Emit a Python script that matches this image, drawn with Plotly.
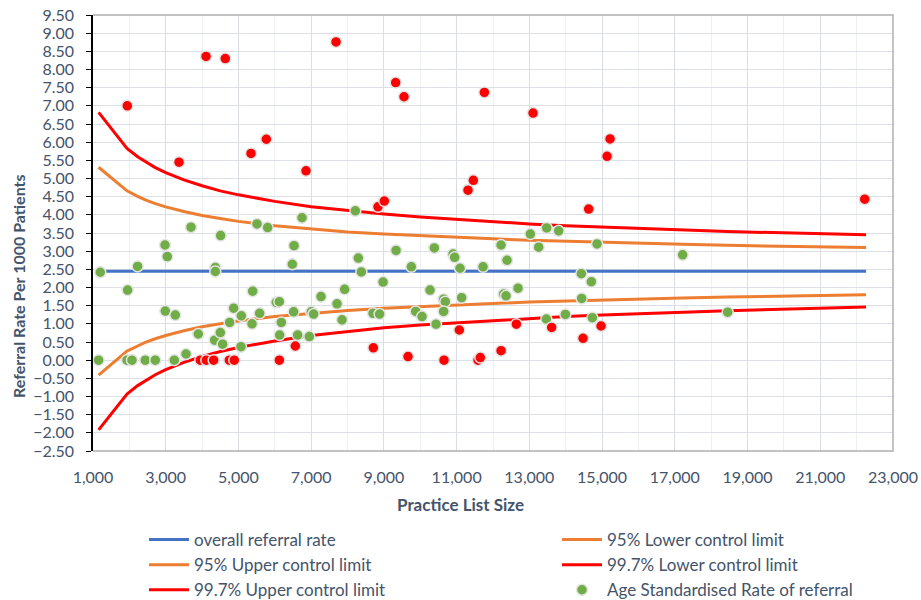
import plotly.graph_objects as go

# ---- data ----
limit_sizes = [1154, 1935, 2227, 2438, 2713, 3000, 3500, 4000, 4500, 5000, 6000, 7000,
               8000, 9000, 10000, 11000, 12000, 13000, 14000, 15000, 17215, 18453, 22259]
upper_997 = [6.82, 5.83, 5.60, 5.46, 5.30, 5.16, 4.96, 4.80, 4.66, 4.55, 4.37, 4.22,
             4.11, 4.02, 3.94, 3.87, 3.81, 3.75, 3.70, 3.66, 3.58, 3.54, 3.45]
lower_997 = [-1.92, -0.93, -0.70, -0.56, -0.40, -0.26, -0.06, 0.10, 0.24, 0.35, 0.53, 0.68,
             0.79, 0.89, 0.97, 1.03, 1.09, 1.15, 1.20, 1.24, 1.32, 1.36, 1.46]
upper_95 = [5.31, 4.66, 4.51, 4.41, 4.31, 4.22, 4.09, 3.98, 3.90, 3.82, 3.70, 3.61,
            3.53, 3.47, 3.42, 3.37, 3.34, 3.30, 3.27, 3.24, 3.19, 3.16, 3.10]
lower_95 = [-0.41, 0.25, 0.39, 0.49, 0.59, 0.68, 0.81, 0.92, 1.00, 1.08, 1.20, 1.29,
            1.37, 1.43, 1.48, 1.53, 1.56, 1.60, 1.63, 1.66, 1.71, 1.74, 1.80]
overall_sizes = [1154, 22259]
overall_rate = [2.45, 2.45]

within_sizes = [1154, 1200, 1935, 1952, 2072, 2227, 2438, 2713, 2980, 3043, 2988, 3236,
                3263, 3558, 3695, 3896, 4345, 4364, 4364, 4501, 4510, 4565, 4758, 4868,
                5070, 5079, 5373, 5390, 5510, 5582, 5802, 6041, 6124, 6132, 6179, 6481,
                6517, 6528, 6627, 6748, 6949, 7003, 7067, 7270, 7710, 7848, 7920, 8214,
                8296, 8380, 8700, 8882, 8976, 9334, 9754, 9874, 10049, 10268, 10387,
                10433, 10642, 10688, 10642, 10901, 10945, 11093, 11138, 11726, 12221,
                12292, 12358, 12386, 12688, 13027, 13256, 13467, 13476, 13806, 13990,
                14429, 14438, 14704, 14732, 14861, 17215, 18453]
within_rates = [0.0, 2.42, 0.0, 1.93, 0.0, 2.58, 0.0, 0.0, 3.17, 2.85, 1.35, 0.0,
                1.24, 0.17, 3.66, 0.72, 0.55, 2.55, 2.44, 0.76, 3.43, 0.44, 1.04, 1.43,
                0.37, 1.22, 1.00, 1.90, 3.75, 1.29, 3.65, 1.59, 1.61, 0.69, 1.04, 2.64,
                1.33, 3.15, 0.69, 3.92, 0.65, 1.33, 1.27, 1.75, 1.55, 1.11, 1.95, 4.11,
                2.81, 2.43, 1.29, 1.27, 2.15, 3.02, 2.57, 1.34, 1.20, 1.93, 3.09,
                0.99, 1.68, 1.61, 1.34, 2.92, 2.83, 2.53, 1.72, 2.57, 3.17,
                1.82, 1.77, 2.75, 1.98, 3.47, 3.11, 1.13, 3.64, 3.56, 1.26,
                2.38, 1.70, 2.16, 1.17, 3.20, 2.90, 1.32]

outside_sizes = [1943, 3365, 3951, 4108, 4116, 4318, 4638, 4749, 4886, 5345, 5766, 6124,
                 6564, 6858, 7683, 8709, 8838, 9011, 9323, 9553, 9663, 10653, 11074,
                 11313, 11459, 11588, 11651, 11762, 12221, 12642, 13101, 13613, 14476,
                 14631, 14971, 15136, 15219, 22222]
outside_rates = [7.00, 5.45, 0.0, 8.36, 0.0, 0.0, 8.30, 0.0, 0.0, 5.69, 6.08, 0.0,
                 0.39, 5.21, 8.76, 0.34, 4.22, 4.38, 7.64, 7.25, 0.10, 0.0, 0.83,
                 4.68, 4.95, 0.0, 0.07, 7.37, 0.26, 0.99, 6.80, 0.90, 0.60,
                 4.16, 0.94, 5.61, 6.09, 4.43]

BLUE = "#4472C4"
ORANGE = "#ED7D31"
RED = "#FF0000"
GREEN = "#70AD47"
TXT = "#44546A"
FONT = "Lato, Liberation Sans, sans-serif"

fig = go.Figure()
fig.add_trace(go.Scatter(x=overall_sizes, y=overall_rate, mode="lines", legend="legend",
                         name="overall referral rate", line=dict(color=BLUE, width=3)))
fig.add_trace(go.Scatter(x=limit_sizes, y=lower_95, mode="lines", legend="legend2",
                         name="95% Lower control limit", line=dict(color=ORANGE, width=3)))
fig.add_trace(go.Scatter(x=limit_sizes, y=upper_95, mode="lines", legend="legend",
                         name="95% Upper control limit", line=dict(color=ORANGE, width=3)))
fig.add_trace(go.Scatter(x=limit_sizes, y=lower_997, mode="lines", legend="legend2",
                         name="99.7% Lower control limit", line=dict(color=RED, width=3)))
fig.add_trace(go.Scatter(x=limit_sizes, y=upper_997, mode="lines", legend="legend",
                         name="99.7% Upper control limit", line=dict(color=RED, width=3)))
fig.add_trace(go.Scatter(x=within_sizes, y=within_rates, mode="markers", legend="legend2",
                         name="Age Standardised Rate of referral",
                         marker=dict(color=GREEN, size=11, line=dict(color="#E4E4E4", width=1.5))))
fig.add_trace(go.Scatter(x=outside_sizes, y=outside_rates, mode="markers",
                         showlegend=False, name="Age Standardised Rate of referral",
                         marker=dict(color=RED, size=11, line=dict(color="#E4E4E4", width=1.5))))

legend_common = dict(orientation="v", xanchor="left", yanchor="top",
                     font=dict(family=FONT, size=17, color=TXT),
                     traceorder="normal", itemwidth=40, tracegroupgap=0,
                     bgcolor="rgba(0,0,0,0)")

fig.update_layout(
    width=921, height=600,
    margin=dict(l=93, r=28, t=15, b=149, autoexpand=False),
    paper_bgcolor="white", plot_bgcolor="white",
    font=dict(family=FONT, size=16, color=TXT),
    showlegend=True,
    legend=dict(x=(144 - 93) / 800, y=(451 - 522) / 436, **legend_common),
    legend2=dict(x=(557 - 93) / 800, y=(451 - 522) / 436, **legend_common),
    xaxis=dict(range=[1000, 23000], tick0=1000, dtick=2000, tickformat=",d",
               showgrid=True, gridcolor="#D9DDE3", gridwidth=1,
               minor=dict(dtick=1000, tick0=1000, showgrid=True, gridcolor="#EEF0F3"),
               showline=False, zeroline=False, ticks="outside", ticklen=12,
               tickcolor="rgba(0,0,0,0)",
               tickfont=dict(size=16, color=TXT)),
    yaxis=dict(range=[-2.5, 9.5], tick0=-2.5, dtick=0.5, tickformat=".2f",
               showgrid=True, gridcolor="#DCE0E6", gridwidth=1,
               showline=True, linecolor="black", linewidth=1.5,
               ticks="outside", ticklen=5, tickcolor="black",
               ticklabelstandoff=9,
               zeroline=False, tickfont=dict(size=16, color=TXT)),
    annotations=[
        dict(text="<b>Practice List Size</b>", xref="paper", yref="paper",
             x=(460 - 93) / 800, y=(451 - 504) / 436, xanchor="center", yanchor="middle",
             showarrow=False, font=dict(family=FONT, size=17, color=TXT)),
        dict(text="<b>Referral Rate Per 1000 Patients</b>", xref="paper", yref="paper",
             x=(18 - 93) / 800, y=(451 - 286) / 436, xanchor="center", yanchor="middle",
             textangle=-90, showarrow=False, font=dict(family=FONT, size=16, color=TXT)),
    ],
    shapes=[dict(type="path", xref="paper", yref="paper",
                 path="M 0,1 L 1,1 L 1,0 L 0,0",
                 line=dict(color="#B0B0B0", width=1.5), layer="above")],
)

fig.write_html("out.html", config={"displayModeBar": False},
               post_script="document.body.style.margin='0';document.body.style.overflow='hidden';")
